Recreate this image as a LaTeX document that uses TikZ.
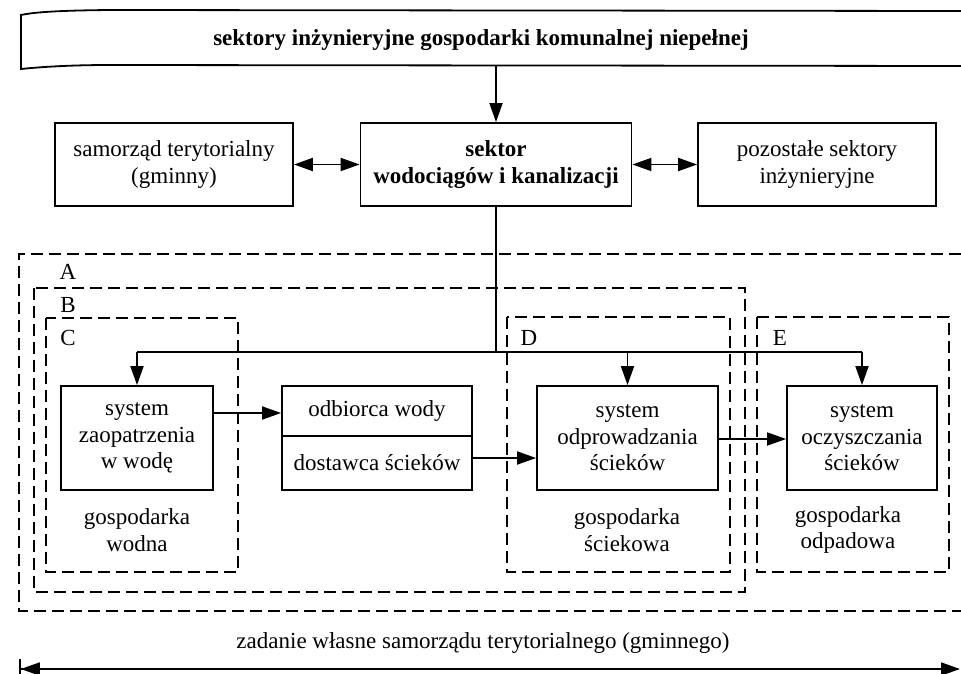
\documentclass[tikz,border=0pt]{standalone}
\usepackage{fontspec}
\setmainfont{Liberation Serif}
\usetikzlibrary{arrows.meta}

\begin{document}
\begin{tikzpicture}[x=1pt,y=-1pt,
  every node/.style={font=\fontsize{23}{26.5}\selectfont},
  box/.style={draw, line width=1.8pt, inner sep=0pt, align=center},
  line/.style={line width=1.8pt},
  arr/.style={line width=1.8pt, -{Triangle[length=19pt,width=13pt]}},
  darr/.style={line width=1.8pt, {Triangle[length=19pt,width=13pt]}-{Triangle[length=19pt,width=13pt]}},
  frame/.style={line width=1.8pt, dash pattern=on 12pt off 6pt},
  tag/.style={inner sep=0pt},
  plain/.style={inner sep=0pt, align=center}]
\useasboundingbox (0,0) rectangle (961,674);

% heading banner
\draw[line] (961,11) -- (110,10) .. controls (60,10.5) and (35,12) .. (21,15)
  -- (21,69) .. controls (40,67) and (70,65) .. (110,65) -- (961,66);
\node[plain, font=\fontsize{23}{26.5}\selectfont\bfseries] (title) at (481,40)
  {sektory inżynieryjne gospodarki komunalnej niepełnej};
\coordinate (bannerfoot) at (496,66);

% upper row
\node[box, minimum width=238pt, minimum height=83pt] (samo) at (174,164.5)
  {samorząd terytorialny\\(gminny)};
\node[box, minimum width=271pt, minimum height=83pt, font=\fontsize{23}{26.5}\selectfont\bfseries] (sektor) at (496,164.5)
  {sektor\\wodociągów i kanalizacji};
\node[box, minimum width=238pt, minimum height=83pt] (pozo) at (817,164.5)
  {pozostałe sektory\\inżynieryjne};

% task areas
\draw[frame] (961,254) -- (19,254) -- (19,611) -- (961,611);
\draw[frame] (34,288) rectangle (745,592);
\draw[frame] (46,318) rectangle (238,572);
\draw[frame] (507,317) rectangle (730,572);
\draw[frame] (757,317) rectangle (949,572);
\node[tag] (lA) at (68,272) {A};
\node[tag] (lB) at (68,305) {B};
\node[tag] (lC) at (68,338) {C};
\node[tag] (lD) at (529,338) {D};
\node[tag] (lE) at (780,338) {E};

% lower row
\node[box, minimum width=152pt, minimum height=104pt] (zaop) at (137,438)
  {system\\zaopatrzenia\\w wodę};
\node[box, minimum width=190pt, minimum height=50pt] (odb) at (377,411) {odbiorca wody};
\node[box, minimum width=190pt, minimum height=54pt] (dost) at (377,463) {dostawca ścieków};
\node[box, minimum width=181pt, minimum height=104pt] (odpr) at (627.5,438)
  {system\\odprowadzania\\ścieków};
\node[box, minimum width=150pt, minimum height=104pt] (oczy) at (862,438)
  {system\\oczyszczania\\ścieków};

\node[plain] (gw) at (137,530) {gospodarka\\wodna};
\node[plain] (gs) at (627,530) {gospodarka\\ściekowa};
\node[plain] (go) at (848,530) {gospodarka\\odpadowa};

% connections
\draw[arr] (bannerfoot) -- (sektor.north);
\draw[darr] (samo.east) -- (sektor.west);
\draw[darr] (sektor.east) -- (pozo.west);
\coordinate (hub) at (496,352);
\draw[line] (sektor.south) -- (hub);
\draw[line] (zaop.north |- hub) -- (oczy.north |- hub);
\draw[arr] (zaop.north |- hub) -- (zaop.north);
\draw[arr] (odpr.north |- hub) -- (odpr.north);
\draw[arr] (oczy.north |- hub) -- (oczy.north);
\draw[arr] (zaop.east |- 0,413) -- (odb.west |- 0,413);
\draw[arr] (dost.east |- 0,458) -- (odpr.west |- 0,458);
\draw[arr] (odpr.east |- 0,439) -- (oczy.west |- 0,439);

% scope of the municipal task
\node[plain] (zad) at (483,643) {zadanie własne samorządu terytorialnego (gminnego)};
\coordinate (zl) at (19,669);
\coordinate (zr) at (960,669);
\draw[line width=1.8pt, {Bar[width=20pt]Triangle[length=19pt,width=13pt]}-{Triangle[length=19pt,width=13pt]}] (zl) -- (zr);
\end{tikzpicture}
\end{document}
